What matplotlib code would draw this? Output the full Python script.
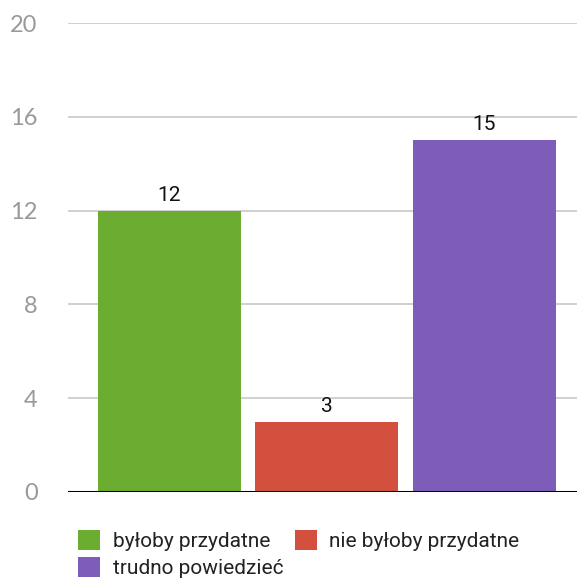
import matplotlib
matplotlib.use('Agg')
import matplotlib.pyplot as plt
from matplotlib.patches import Patch

plt.rcParams['font.family'] = ['Roboto', 'DejaVu Sans']

# data
categories = ['byłoby przydatne', 'nie byłoby przydatne', 'trudno powiedzieć']
values = [12, 3, 15]
colors = ['#6aad30', '#d3503f', '#7d5db8']
yticks = [0, 4, 8, 12, 16, 20]

fig = plt.figure(figsize=(5.77, 5.78), dpi=100)
ax = fig.add_axes([0.118, 0.149, 0.882, 0.811])

x = list(range(len(categories)))
bars = ax.bar(x, values, width=0.91, color=colors, zorder=3)
for b, v in zip(bars, values):
    ax.text(b.get_x() + b.get_width() / 2, v + 0.25, str(v),
            ha='center', va='bottom', fontsize=15, color='#111111', zorder=4)

ax.set_xlim(-0.645, 2.59)
ax.set_ylim(0, 20)
ax.set_yticks(yticks)
ax.set_xticks([])
ax.grid(axis='y', color='#c8c8c8', linewidth=1.2, zorder=0)
ax.axhline(0, color='black', linewidth=2.2, zorder=5)
for s in ax.spines.values():
    s.set_visible(False)
ax.tick_params(axis='y', length=0, pad=22, labelsize=17, labelcolor='#999999')
for t in ax.get_yticklabels():
    t.set_family(['Lato', 'DejaVu Sans'])

# legend fills column-wise, so reorder to read row by row
order = [0, 2, 1]
handles = [Patch(facecolor=colors[i], edgecolor='none') for i in order]
labels = [categories[i] for i in order]
fig.legend(handles, labels, loc='upper left', bbox_to_anchor=(0.121, 0.097),
           bbox_transform=fig.transFigure, ncol=2, frameon=False, fontsize=15,
           handlelength=1.05, handleheight=1.05, handletextpad=0.6,
           labelspacing=0.3, columnspacing=0.57, borderaxespad=0,
           labelcolor='#222222')

fig.savefig('out.png', dpi=100)
